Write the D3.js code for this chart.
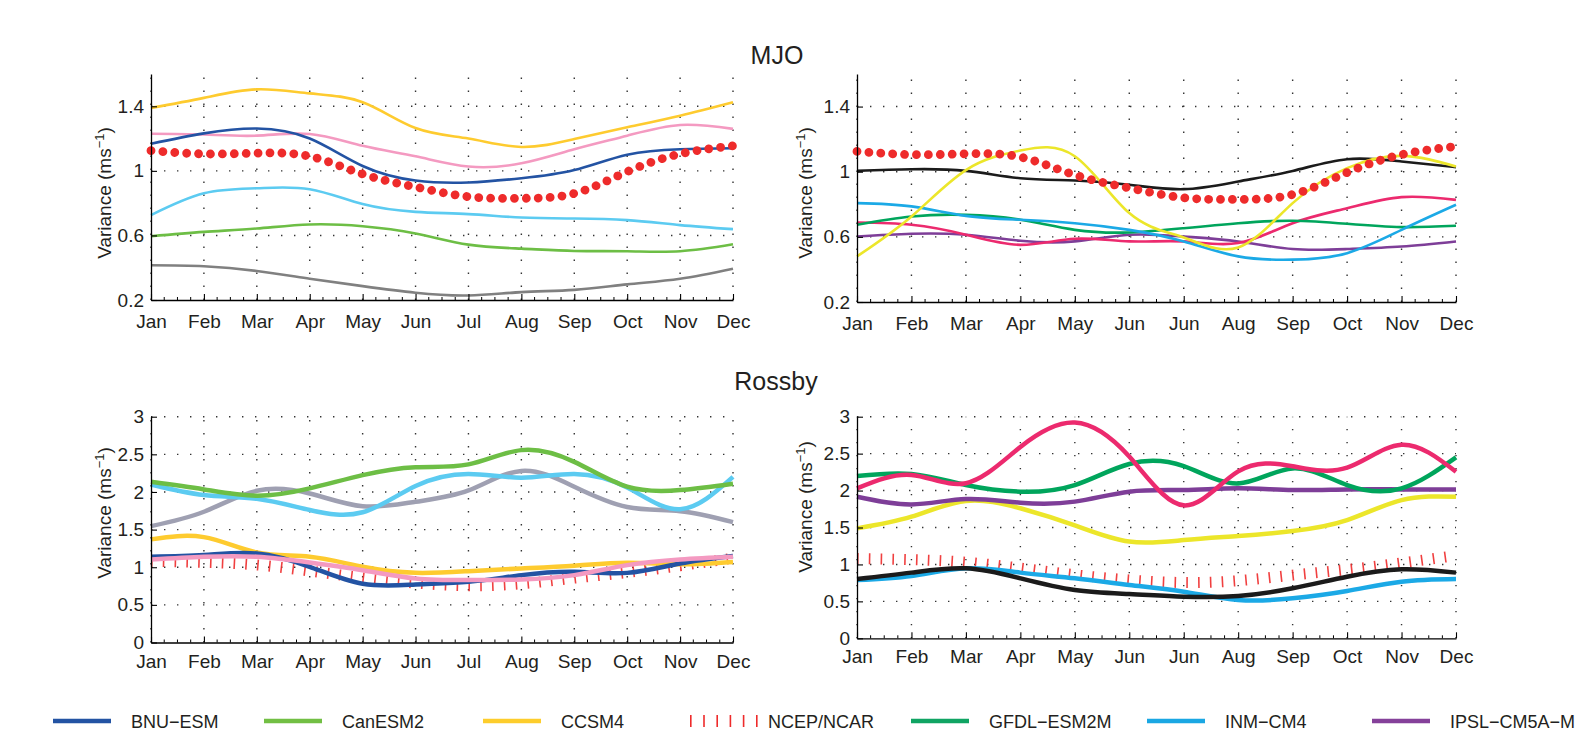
<!DOCTYPE html>
<html><head><meta charset="utf-8">
<script src="https://cdn.jsdelivr.net/npm/d3@7"></script>
<style>
body{margin:0;background:#fff;overflow:hidden;}
svg{display:block;}
</style></head><body>
<svg id="chart" width="1579" height="733"></svg>
<script>
// ---------- data ----------
const monthsLeft  = ["Jan","Feb","Mar","Apr","May","Jun","Jul","Aug","Sep","Oct","Nov","Dec"];
const monthsRight = ["Jan","Feb","Mar","Apr","May","Jun","Jun","Aug","Sep","Oct","Nov","Dec"];
const mjoTicks    = [0.2, 0.6, 1, 1.4];
const rossbyTicks = [0, 0.5, 1, 1.5, 2, 2.5, 3];

// NCEP/NCAR reanalysis
const ncepMJO    = [1.125,1.105,1.11,1.09,0.98,0.90,0.84,0.83,0.86,0.995,1.105,1.155];
const ncepRossby = [1.08,1.065,1.03,0.95,0.86,0.79,0.755,0.78,0.855,0.93,1.02,1.12];

// MJO, left panel
const mjoL_grey  = [0.415,0.409,0.38,0.332,0.286,0.245,0.228,0.249,0.263,0.297,0.332,0.394];
const mjoL_can   = [0.595,0.622,0.643,0.668,0.657,0.612,0.543,0.518,0.504,0.502,0.502,0.545];
const mjoL_lblue = [0.726,0.861,0.892,0.886,0.794,0.746,0.732,0.711,0.705,0.695,0.664,0.639];
const mjoL_pink  = [1.23,1.225,1.218,1.228,1.155,1.09,1.027,1.047,1.134,1.218,1.284,1.26];
const mjoL_bnu   = [1.168,1.232,1.262,1.20,1.03,0.94,0.928,0.954,1.005,1.10,1.134,1.14];
const mjoL_ccsm  = [1.39,1.452,1.505,1.48,1.425,1.265,1.20,1.148,1.197,1.27,1.342,1.425];

// MJO, right panel
const mjoR_purple  = [0.602,0.619,0.613,0.576,0.572,0.613,0.602,0.572,0.525,0.525,0.541,0.572];
const mjoR_magenta = [0.688,0.674,0.613,0.551,0.588,0.572,0.572,0.562,0.684,0.776,0.844,0.827];
const mjoR_gfdl    = [0.674,0.725,0.735,0.705,0.643,0.627,0.653,0.684,0.699,0.68,0.66,0.668];
const mjoR_inm     = [0.807,0.787,0.729,0.705,0.684,0.643,0.572,0.48,0.46,0.50,0.643,0.797];
const mjoR_black   = [1.005,1.015,1.005,0.96,0.946,0.92,0.893,0.94,1.005,1.077,1.063,1.028];
const mjoR_yellow  = [0.48,0.725,1.01,1.13,1.095,0.746,0.596,0.535,0.807,1.022,1.097,1.032];

// Rossby, left panel
const rosL_grey  = [1.546,1.737,2.016,1.98,1.81,1.87,2.02,2.28,2.07,1.80,1.745,1.60];
const rosL_lblue = [2.10,1.96,1.91,1.76,1.73,2.08,2.24,2.19,2.24,2.06,1.77,2.2];
const rosL_can   = [2.135,2.034,1.95,2.047,2.224,2.33,2.366,2.556,2.40,2.07,2.025,2.11];
const rosL_ccsm  = [1.37,1.40,1.196,1.139,1.006,0.926,0.948,0.984,1.02,1.06,1.04,1.07];
const rosL_bnu   = [1.139,1.161,1.183,1.006,0.78,0.77,0.806,0.895,0.94,0.925,1.05,1.15];
const rosL_pink  = [1.103,1.139,1.139,1.063,0.961,0.851,0.829,0.837,0.895,1.028,1.103,1.139];

// Rossby, right panel
const rosR_inm     = [0.789,0.843,0.947,0.889,0.812,0.722,0.631,0.519,0.541,0.64,0.767,0.803];
const rosR_black   = [0.803,0.889,0.947,0.812,0.654,0.60,0.564,0.573,0.677,0.834,0.934,0.889];
const rosR_yellow  = [1.488,1.646,1.86,1.76,1.53,1.31,1.33,1.385,1.452,1.60,1.87,1.917];
const rosR_purple  = [1.917,1.813,1.886,1.836,1.85,1.985,2.007,2.03,2.007,2.016,2.016,2.016];
const rosR_gfdl    = [2.197,2.224,2.075,1.985,2.075,2.36,2.33,2.097,2.30,2.075,2.03,2.45];
const rosR_magenta = [2.03,2.21,2.10,2.59,2.92,2.46,1.80,2.26,2.33,2.31,2.62,2.255];

// legend
const legendNames  = ["BNU\u2212ESM","CanESM2","CCSM4","NCEP/NCAR","GFDL\u2212ESM2M","INM\u2212CM4","IPSL\u2212CM5A\u2212M"];
const legendColors = ["#2353a3","#72bf44","#fdcd2c","#ee2b2b","#10a463","#1aa7e3","#85419a"];

// ---------- styles ----------
const C = {
  bnu:"#2353a3", can:"#6dbe45", ccsm:"#fecb2f", pink:"#f49ac1", lblue:"#5ccbf1",
  greyM:"#808080", greyR:"#9fa0b2", black:"#1b1b1b", yellow:"#ece62a",
  inm:"#1ba9e6", gfdl:"#00a55c", magenta:"#ec2a6e", ipsl:"#7e3e98", red:"#ee2b2b"
};
const TXT = "#231f20";
const tickFont = "'Liberation Sans Narrow','Arial Narrow','Liberation Sans',sans-serif";
const labFont = "'Liberation Sans',Arial,sans-serif";

const panels = [
  {x0:151, x1:733, yT:74, yB:300, dom:[0.2,1.6], ticks:mjoTicks, labels:monthsLeft, xlabY:328,
   ylabX:111, ylabY:193, lw:2.6, ncep:ncepMJO, ncepStyle:"dots", ncepOnTop:true,
   lines:[[mjoL_grey,C.greyM],[mjoL_can,C.can],[mjoL_lblue,C.lblue],[mjoL_pink,C.pink],[mjoL_bnu,C.bnu],[mjoL_ccsm,C.ccsm]]},
  {x0:857, x1:1456, yT:74, yB:302, dom:[0.2,1.6], ticks:mjoTicks, labels:monthsRight, xlabY:330,
   ylabX:812, ylabY:193, lw:2.6, ncep:ncepMJO, ncepStyle:"dots", ncepOnTop:true,
   lines:[[mjoR_purple,C.ipsl],[mjoR_magenta,C.magenta],[mjoR_gfdl,C.gfdl],[mjoR_inm,C.inm],[mjoR_black,C.black],[mjoR_yellow,C.yellow]]},
  {x0:151, x1:733, yT:416.7, yB:642.5, dom:[0,3], ticks:rossbyTicks, labels:monthsLeft, xlabY:668,
   ylabX:111, ylabY:513, lw:4.5, ncep:ncepRossby, ncepStyle:"ticks", ncepOnTop:false,
   lines:[[rosL_grey,C.greyR],[rosL_lblue,C.lblue],[rosL_can,C.can],[rosL_ccsm,C.ccsm],[rosL_bnu,C.bnu],[rosL_pink,C.pink]]},
  {x0:857, x1:1456, yT:416.7, yB:638.3, dom:[0,3], ticks:rossbyTicks, labels:monthsRight, xlabY:663,
   ylabX:812, ylabY:507, lw:4.5, ncep:ncepRossby, ncepStyle:"ticks", ncepOnTop:false,
   lines:[[rosR_inm,C.inm],[rosR_black,C.black],[rosR_yellow,C.yellow],[rosR_purple,C.ipsl],[rosR_gfdl,C.gfdl],[rosR_magenta,C.magenta]]}
];

const svg = d3.select("#chart");

function drawNcep(g, vals, x, y, style) {
  const line = d3.line().x((d,i)=>x(i)).y(d=>y(d)).curve(d3.curveNatural);
  if (style === "dots") {
    g.append("path").attr("d", line(vals)).attr("fill","none")
      .attr("stroke", C.red).attr("stroke-width", 8.8)
      .attr("stroke-linecap","round").attr("stroke-dasharray","0.01 11.9");
  } else {
    g.append("path").attr("d", line(vals)).attr("fill","none")
      .attr("stroke", C.red).attr("stroke-width", 11).attr("stroke-opacity",0.9)
      .attr("stroke-dasharray","1.6 10.2");
  }
}

panels.forEach(p => {
  const g = svg.append("g");
  const x = d3.scaleLinear().domain([0,11]).range([p.x0, p.x1]);
  const y = d3.scaleLinear().domain(p.dom).range([p.yB, p.yT]);

  // grid (dotted)
  const grid = g.append("g").attr("stroke","#333").attr("stroke-width",1.4).attr("stroke-dasharray","1.4 11.6");
  d3.range(12).forEach(i => {
    grid.append("line").attr("x1",x(i)).attr("x2",x(i)).attr("y1",p.yB).attr("y2",p.yT);
  });
  p.ticks.forEach(t => {
    if (t === p.dom[0]) return;
    grid.append("line").attr("x1",p.x0).attr("x2",p.x1).attr("y1",y(t)).attr("y2",y(t));
  });

  // data lines
  const line = d3.line().x((d,i)=>x(i)).y(d=>y(d)).curve(d3.curveNatural);
  if (!p.ncepOnTop) drawNcep(g, p.ncep, x, y, p.ncepStyle);
  p.lines.forEach(([vals,col]) => {
    g.append("path").attr("d", line(vals)).attr("fill","none")
      .attr("stroke", col).attr("stroke-width", p.lw).attr("stroke-linejoin","round");
  });
  if (p.ncepOnTop) drawNcep(g, p.ncep, x, y, p.ncepStyle);

  // axes
  const xAxis = d3.axisBottom(x).tickValues(d3.range(12)).tickSizeInner(-6).tickSizeOuter(0)
    .tickFormat((d,i)=>p.labels[i]);
  const xa = g.append("g").attr("transform",`translate(0,${p.yB})`).call(xAxis);
  xa.select(".domain").attr("stroke","#000").attr("stroke-width",1.3);
  xa.selectAll(".tick line").attr("stroke","#000").attr("stroke-width",1.1);
  xa.selectAll(".tick text").attr("y",null).attr("dy",null)
    .attr("transform",`translate(0,${p.xlabY - p.yB})`)
    .style("font-family",tickFont).style("font-size","19px").attr("fill",TXT);
  // minor x ticks
  const minor = d3.range(0, 11.001, 0.25).filter(v => Math.abs(v - Math.round(v)) > 1e-6);
  g.append("g").selectAll("line").data(minor).join("line")
    .attr("x1",d=>x(d)).attr("x2",d=>x(d)).attr("y1",p.yB).attr("y2",p.yB-3)
    .attr("stroke","#000").attr("stroke-width",1);

  const yAxis = d3.axisLeft(y).tickValues(p.ticks).tickSizeInner(-6).tickSizeOuter(0)
    .tickFormat(d3.format("~g"));
  const ya = g.append("g").attr("transform",`translate(${p.x0},0)`).call(yAxis);
  ya.select(".domain").attr("stroke","#000").attr("stroke-width",1.3);
  ya.selectAll(".tick line").attr("stroke","#000").attr("stroke-width",1.1);
  ya.selectAll(".tick text").attr("x",-7).style("font-family",tickFont).style("font-size","19px").attr("fill",TXT);

  // y label
  const lab = g.append("text").attr("transform",`translate(${p.ylabX},${p.ylabY}) rotate(-90)`)
    .attr("text-anchor","middle").style("font-family",labFont).style("font-size","19px").attr("fill",TXT);
  lab.append("tspan").text("Variance (ms");
  lab.append("tspan").attr("dy",-7).style("font-size","13px").text("\u22121");
  lab.append("tspan").attr("dy",7).text(")");
});

// titles
svg.append("text").attr("x",777).attr("y",64).attr("text-anchor","middle")
  .style("font-family",labFont).style("font-size","25px").attr("fill",TXT).text("MJO");
svg.append("text").attr("x",776).attr("y",390).attr("text-anchor","middle")
  .style("font-family",labFont).style("font-size","25px").attr("fill",TXT).text("Rossby");

// legend
const legX = [53, 264, 483, 690, 911, 1147, 1372];
const legY = 721;
const lg = svg.append("g");
legendNames.forEach((name, i) => {
  const x0 = legX[i];
  if (name === "NCEP/NCAR") {
    lg.append("line").attr("x1",x0).attr("x2",x0+70).attr("y1",legY).attr("y2",legY)
      .attr("stroke",legendColors[i]).attr("stroke-width",12).attr("stroke-dasharray","1.6 11.6");
    lg.append("text").attr("x",x0+78).attr("y",legY+7).style("font-family",labFont)
      .style("font-size","18px").attr("fill",TXT).text(name);
  } else {
    lg.append("line").attr("x1",x0).attr("x2",x0+58).attr("y1",legY).attr("y2",legY)
      .attr("stroke",legendColors[i]).attr("stroke-width",4.5);
    lg.append("text").attr("x",x0+78).attr("y",legY+7).style("font-family",labFont)
      .style("font-size","18px").attr("fill",TXT).text(name);
  }
});
</script>
</body></html>
